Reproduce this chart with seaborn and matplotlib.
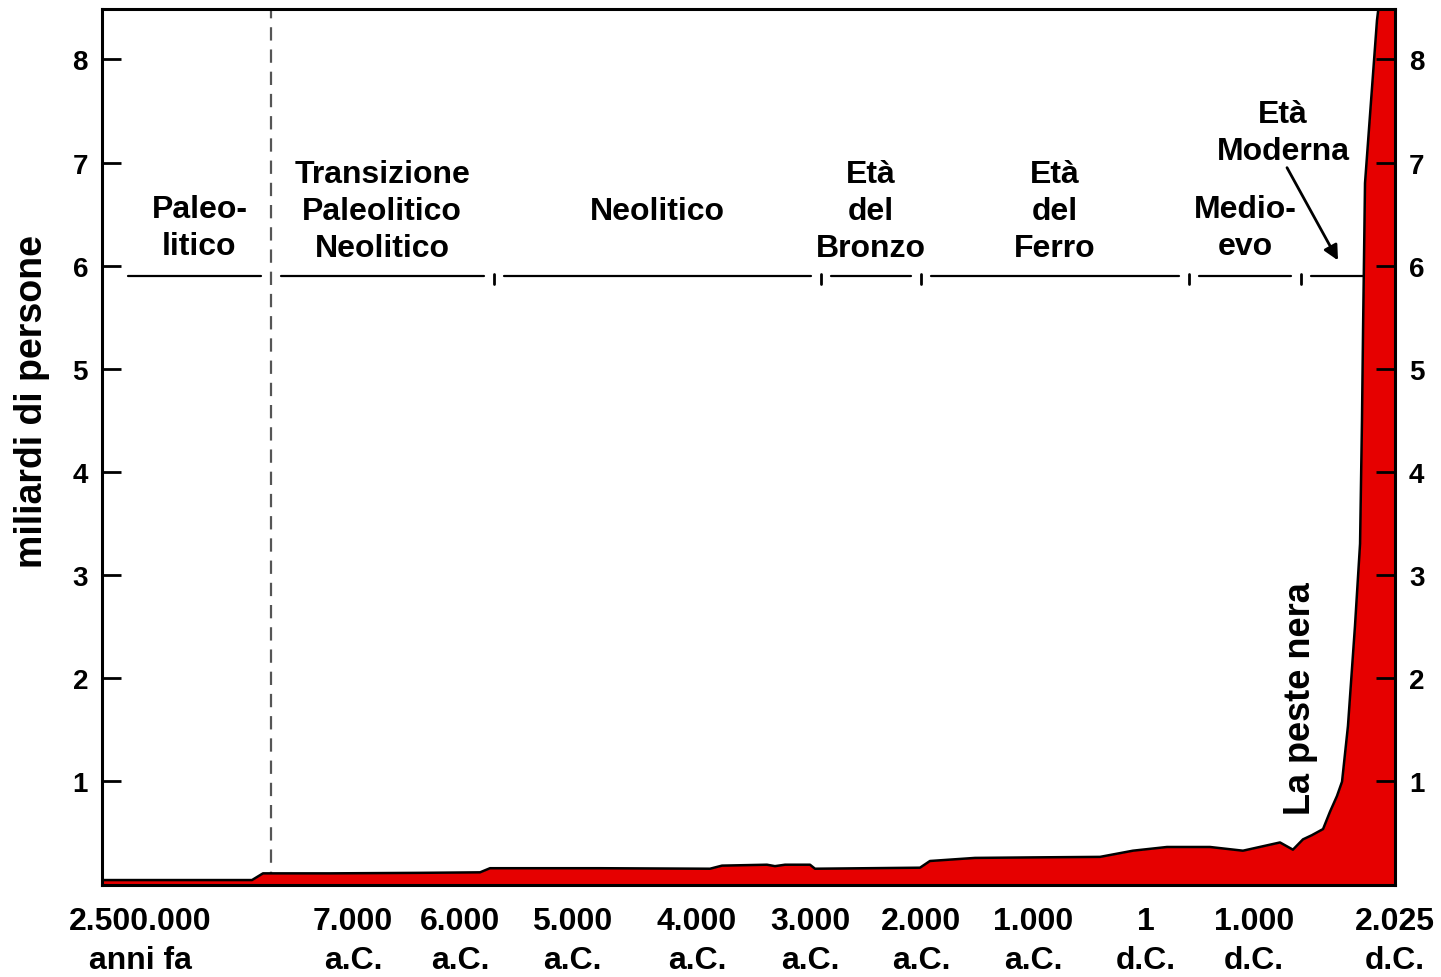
"""
World population through history (billions), on a piecewise time axis.
"""

import matplotlib.pyplot as plt
import numpy as np
import pandas as pd
import seaborn as sns

# population curve: year (negative = a.C.) and billions of people
YEARS = [
    -3_000_000, -371_000, -162_000, -7_841, -6_374, -5_821, -5_732, -4_776,
    -3_885, -3_779, -3_381, -3_310, -3_221, -3_000, -2_955, -2_009, -1_920,
    -1_518, -1_000, -406, -115, 195, 593, 898, 1_189, 1_283, 1_356, 1_420,
    1_502, 1_553, 1_603, 1_640, 1_683, 1_734, 1_771, 1_785, 1_793, 1_807,
    1_851, 1_894, 1_923, 2_025,
]
POP = [
    0.035, 0.035, 0.10, 0.10, 0.105, 0.11, 0.15, 0.15,
    0.145, 0.175, 0.184, 0.17, 0.184, 0.184, 0.145, 0.155, 0.22,
    0.25, 0.255, 0.26, 0.32, 0.356, 0.356, 0.32, 0.40, 0.33, 0.43, 0.47,
    0.53, 0.70, 0.85, 0.99, 1.53, 2.5, 3.3, 4.5, 5.4, 6.8,
    7.6, 8.38, 8.7, 8.7,
]

TICK_YEARS = [-2_500_000, -7_000, -6_000, -5_000, -4_000, -3_000,
              -2_000, -1_000, 1, 1_000, 2_025]
TICK_LABELS = ["2.500.000\nanni fa", "7.000\na.C.", "6.000\na.C.", "5.000\na.C.",
               "4.000\na.C.", "3.000\na.C.", "2.000\na.C.", "1.000\na.C.",
               "1\nd.C.", "1.000\nd.C.", "2.025\nd.C."]

# era boundaries (first one is the dashed Paleolithic line)
ERA_BOUNDS = [-10_000, -5_700, -2_900, -2_000, 400, 1_340]
ERA_NAMES = ["Paleo-\nlitico", "Transizione\nPaleolitico\nNeolitico", "Neolitico",
             "Età\ndel\nBronzo", "Età\ndel\nFerro", "Medio-\nevo"]
ERA_LINE_LEVEL = 5.9

# piecewise time axis: year -> position along the axis
AXIS_YEARS = [-3_000_000, -2_500_000, -10_000, -7_000, -6_000, -5_000, -4_000,
              -3_000, -2_000, -1_000, 1, 1_000, 2_025]
AXIS_POS = [102, 140, 271, 353, 460, 572, 697, 810, 921, 1033, 1146, 1254, 1395]

RED = "#e60000"


def to_pos(x):
    return np.interp(x, AXIS_YEARS, AXIS_POS)


def to_year(p):
    return np.interp(p, AXIS_POS, AXIS_YEARS)


sns.set_theme(style="white")
plt.rcParams["font.family"] = ["Liberation Sans", "DejaVu Sans"]
plt.rcParams["font.weight"] = "bold"
plt.rcParams["text.color"] = "black"
plt.rcParams["axes.labelcolor"] = "black"

df = pd.DataFrame({"year": YEARS, "pop": POP})

fig = plt.figure(figsize=(14.41, 9.78), dpi=100)
ax = fig.add_axes([102 / 1441, 1 - 886 / 978, 1293 / 1441, 876 / 978])
ax.set_xscale("function", functions=(to_pos, to_year))
ax.set_xlim(AXIS_YEARS[0], AXIS_YEARS[-1])
ax.set_ylim(-0.013, 8.49)
ax.set_axisbelow(False)

# era band line with small tick marks and gaps
gap = 10
line_start = to_year(128)
line_end = to_year(1370)
stops = [line_start] + ERA_BOUNDS + [line_end]
for a, b in zip(stops[:-1], stops[1:]):
    xa = to_year(to_pos(a) + (0 if a == line_start else gap))
    xb = to_year(to_pos(b) - (0 if b == line_end else gap))
    ax.plot([xa, xb], [ERA_LINE_LEVEL] * 2, color="black", lw=1.6, zorder=1.5)
for b in ERA_BOUNDS[1:]:
    ax.plot([b, b], [ERA_LINE_LEVEL + 0.02, ERA_LINE_LEVEL - 0.08],
            color="black", lw=2, zorder=1.5)

ax.axvline(ERA_BOUNDS[0], color="#555555", lw=1.6, ls=(0, (6, 4)), zorder=1.5)

# era names centred over their stretch of the line
for a, b, name in zip(stops[:-2], stops[1:-1], ERA_NAMES):
    xc = to_year((to_pos(a) + to_pos(b)) / 2)
    nlines = name.count("\n") + 1
    yc = 6.53 if nlines != 2 else 6.37
    ax.text(xc, yc, name, ha="center", va="center", fontsize=23,
            fontweight="bold", linespacing=1.3, zorder=5)

ax.text(to_year(1283), 7.29, "Età\nModerna", ha="center", va="center",
        fontsize=23, fontweight="bold", linespacing=1.3, zorder=5)
ax.annotate("", xy=(to_year(1338), 6.05), xytext=(to_year(1287), 6.95),
            arrowprops=dict(arrowstyle="-|>", color="black", lw=2,
                            mutation_scale=22, shrinkA=0, shrinkB=0),
            zorder=5)

ax.fill_between(df["year"], -0.1, df["pop"], color=RED, lw=0, zorder=2)
sns.lineplot(data=df, x="year", y="pop", color="black", lw=1.8, ax=ax,
             zorder=2.2, legend=False)

ax.text(to_year(1300), 0.68, "La peste nera", rotation=90, ha="center",
        va="bottom", fontsize=26, fontweight="bold", zorder=5)

ax.set_xticks(TICK_YEARS, TICK_LABELS)
ax.set_yticks(range(1, 9))
ax.minorticks_off()
ax.tick_params(axis="x", direction="in", length=8, width=2, pad=15,
               labelsize=23, colors="black")
ax.tick_params(axis="y", left=True, right=True, labelleft=True,
               labelright=True, direction="in", length=14, width=2, pad=10,
               labelsize=20, colors="black")
for lbl in ax.get_xticklabels():
    lbl.set_linespacing(1.4)
    lbl.set_fontweight("bold")
for lbl in ax.get_yticklabels():
    lbl.set_fontweight("bold")

ax.set_xlabel("")
ax.set_ylabel("miliardi di persone", fontsize=27, fontweight="bold")
ax.yaxis.set_label_coords(-0.040, 0.553)

for spine in ax.spines.values():
    spine.set_visible(True)
    spine.set_color("black")
    spine.set_linewidth(2.2)

fig.savefig("out.png", dpi=100)
